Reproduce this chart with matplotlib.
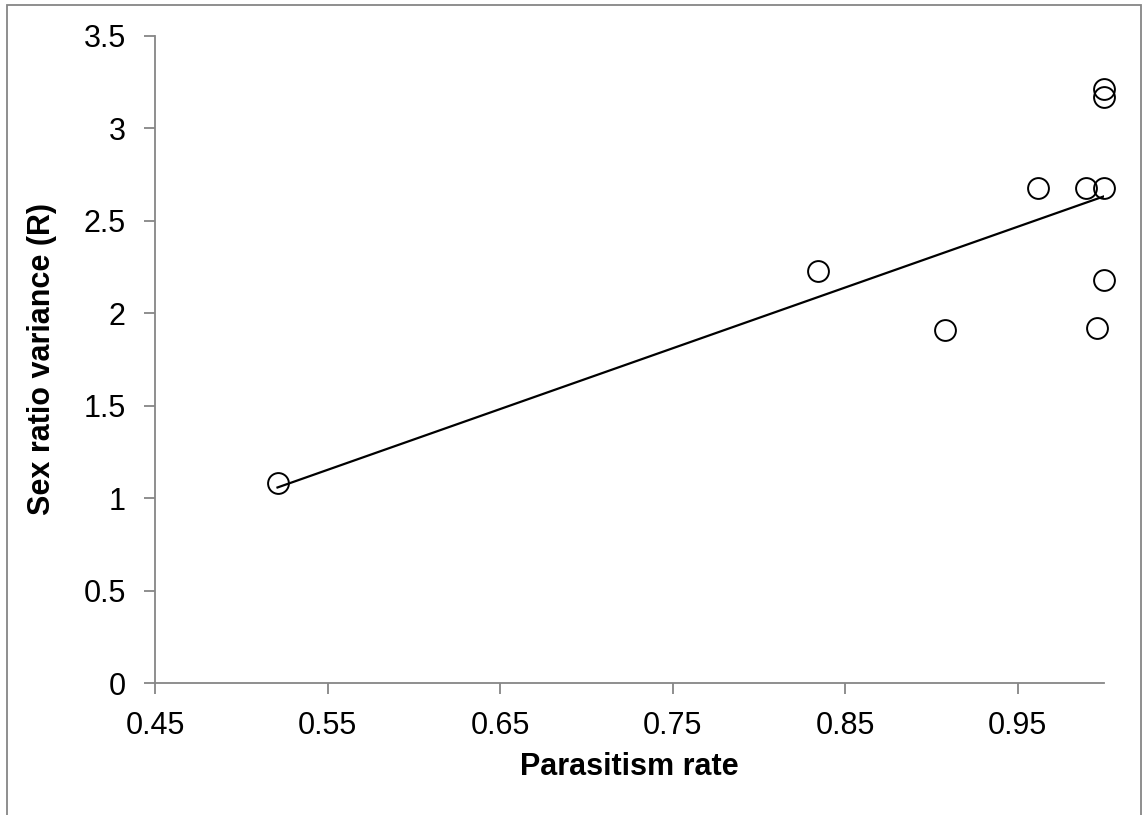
import numpy as np
import matplotlib
matplotlib.use("Agg")
import matplotlib.pyplot as plt
from matplotlib.patches import Rectangle

# Parasitism rate vs. sex ratio variance
parasitism_rate = [0.521, 0.834, 0.908, 0.9615, 0.9895, 1.000, 1.000, 1.000, 1.000, 0.9958]
sex_ratio_var = [1.08, 2.23, 1.91, 2.675, 2.675, 2.675, 3.21, 3.17, 2.18, 1.918]

x_ticks = [0.45, 0.55, 0.65, 0.75, 0.85, 0.95]
x_tick_labels = ["0.45", "0.55", "0.65", "0.75", "0.85", "0.95"]
y_ticks = [0, 0.5, 1, 1.5, 2, 2.5, 3, 3.5]
y_tick_labels = ["0", "0.5", "1", "1.5", "2", "2.5", "3", "3.5"]

plt.rcParams["font.family"] = ["Liberation Sans", "DejaVu Sans"]

fig = plt.figure(figsize=(11.43, 8.15), dpi=100)
ax = fig.add_axes([0.1356, 0.1616, 0.8303, 0.7946])

grey = "#868686"

x = np.array(parasitism_rate)
y = np.array(sex_ratio_var)

# Least-squares trend line spanning the data range
slope, intercept = np.polyfit(x, y, 1)
xl = np.array([x.min(), x.max()])
ax.plot(xl, slope * xl + intercept, color="black", lw=1.6, zorder=2)

ax.plot(x, y, linestyle="none", marker="o", markersize=15,
        markerfacecolor="none", markeredgecolor="black", markeredgewidth=1.4,
        zorder=3, clip_on=False)

ax.set_xlim(0.45, 1.0)
ax.set_ylim(0, 3.5)
ax.set_xticks(x_ticks)
ax.set_xticklabels(x_tick_labels)
ax.set_yticks(y_ticks)
ax.set_yticklabels(y_tick_labels)

for side in ("top", "right"):
    ax.spines[side].set_visible(False)
for side in ("left", "bottom"):
    ax.spines[side].set_color(grey)
    ax.spines[side].set_linewidth(1.3)

ax.tick_params(axis="both", direction="out", length=8, width=1.3, color=grey,
               labelsize=22, labelcolor="black")
ax.tick_params(axis="x", pad=12)
ax.tick_params(axis="y", pad=13)

ax.set_xlabel("Parasitism rate", fontsize=22, fontweight="bold", labelpad=8)
ax.set_ylabel("Sex ratio variance (R)", fontsize=22, fontweight="bold", labelpad=19)

# Outer chart-area border (open at the bottom edge)
fig.patches.append(Rectangle((6.5 / 1143, -0.05), (1141 - 6.5) / 1143, 1.05 - 5.5 / 815,
                             transform=fig.transFigure, fill=False,
                             edgecolor=grey, linewidth=1.3))

fig.savefig("out.png", dpi=100)
